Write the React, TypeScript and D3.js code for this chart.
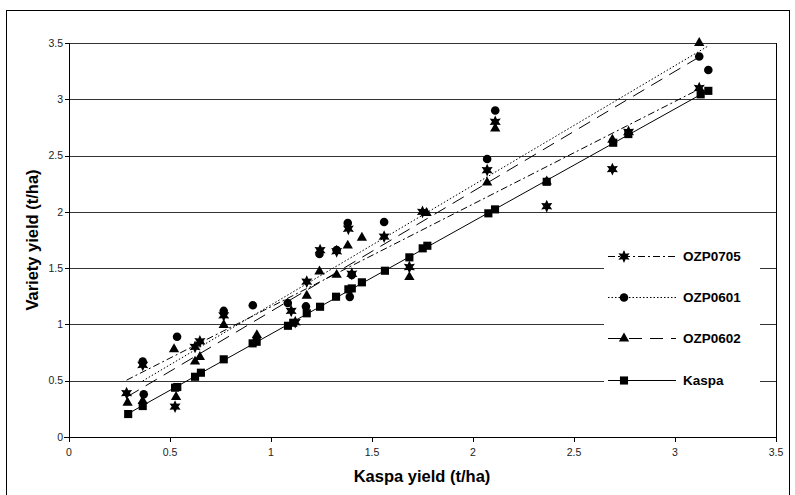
import React from "react";
import * as d3 from "d3";

// ---- Data ----
const KASPA_X = [0.293, 0.365, 0.525, 0.536, 0.624, 0.653, 0.766, 0.909, 0.929, 1.084, 1.11, 1.177, 1.243, 1.322, 1.383, 1.4, 1.45, 1.564, 1.685, 1.751, 1.774, 2.076, 2.109, 2.365, 2.694, 2.769, 3.127, 3.165];
const KASPA_Y = [0.204, 0.275, 0.438, 0.444, 0.535, 0.571, 0.69, 0.832, 0.846, 0.988, 1.015, 1.099, 1.157, 1.246, 1.312, 1.32, 1.374, 1.477, 1.596, 1.676, 1.699, 1.987, 2.022, 2.267, 2.614, 2.691, 3.044, 3.075];

const OZP0705_X = [0.285, 0.365, 0.525, 0.624, 0.648, 0.766, 1.1, 1.12, 1.177, 1.243, 1.325, 1.383, 1.4, 1.56, 1.685, 1.75, 2.07, 2.11, 2.365, 2.69, 2.77, 3.12];
const OZP0705_Y = [0.39, 0.64, 0.27, 0.8, 0.85, 1.08, 1.12, 1.02, 1.38, 1.66, 1.65, 1.85, 1.45, 1.78, 1.51, 2.0, 2.37, 2.8, 2.05, 2.38, 2.71, 3.1];

const OZP0601_X = [0.365, 0.37, 0.535, 0.766, 0.91, 1.083, 1.173, 1.24, 1.325, 1.38, 1.4, 1.39, 1.56, 2.07, 2.11, 3.12, 3.165];
const OZP0601_Y = [0.67, 0.38, 0.89, 1.12, 1.17, 1.19, 1.16, 1.625, 1.66, 1.9, 1.44, 1.245, 1.91, 2.47, 2.9, 3.38, 3.26];

const OZP0602_X = [0.29, 0.365, 0.52, 0.53, 0.624, 0.648, 0.766, 0.93, 1.177, 1.24, 1.325, 1.38, 1.45, 1.685, 1.77, 2.07, 2.11, 2.365, 2.69, 3.12];
const OZP0602_Y = [0.305, 0.32, 0.78, 0.355, 0.67, 0.71, 0.995, 0.905, 1.255, 1.47, 1.44, 1.7, 1.77, 1.42, 1.99, 2.26, 2.74, 2.27, 2.64, 3.5];

// trendline coefficients (slope, intercept)
const SERIES_NAMES = ["OZP0705", "OZP0601", "OZP0602", "Kaspa"];
const TREND_SLOPE = [0.912, 1.063, 1.066, 1.0];
const TREND_INTERCEPT = [0.245, 0.11, 0.05, -0.085];

const TICKS = [0, 0.5, 1, 1.5, 2, 2.5, 3, 3.5];

const W = 795;
const H = 495;
const FONT = "'Liberation Sans', Arial, sans-serif";

function starPath(ro: number, ri: number): string {
  const pts: [number, number][] = [];
  for (let i = 0; i < 12; i++) {
    const a = -Math.PI / 2 + (i * Math.PI) / 6;
    const r = i % 2 === 0 ? ro : ri;
    pts.push([r * Math.cos(a), r * Math.sin(a)]);
  }
  return "M" + pts.map((p) => p[0].toFixed(2) + "," + p[1].toFixed(2)).join("L") + "Z";
}

const markerPaths: Record<string, string> = {
  OZP0705: starPath(6.4, 3.3),
  OZP0601: d3.symbol().type(d3.symbolCircle).size(58)() as string,
  OZP0602: d3.symbol().type(d3.symbolTriangle).size(46)() as string,
  Kaspa: d3.symbol().type(d3.symbolSquare).size(66)() as string,
};

const dashes: Record<string, string> = {
  OZP0705: "7,3,2,3",
  OZP0601: "1.5,2",
  OZP0602: "13,8",
  Kaspa: "none",
};

export default function App() {
  const x = d3.scaleLinear().domain([0, 3.5]).range([69, 776]);
  const y = d3.scaleLinear().domain([0, 3.5]).range([437, 43]);

  const seriesX: Record<string, number[]> = {
    OZP0705: OZP0705_X,
    OZP0601: OZP0601_X,
    OZP0602: OZP0602_X,
    Kaspa: KASPA_X,
  };
  const seriesY: Record<string, number[]> = {
    OZP0705: OZP0705_Y,
    OZP0601: OZP0601_Y,
    OZP0602: OZP0602_Y,
    Kaspa: KASPA_Y,
  };

  const line = d3
    .line<[number, number]>()
    .x((d) => x(d[0]))
    .y((d) => y(d[1]));

  const legendY = [256, 297, 338, 380];
  const drawOrder = ["Kaspa", "OZP0602", "OZP0601", "OZP0705"];

  return (
    <svg
      width={W}
      height={H}
      style={{ position: "absolute", left: 0, top: 0, background: "#fff" }}
      fontFamily={FONT}
    >
      <rect x={6.5} y={10.5} width={783} height={500} fill="#fff" stroke="#000" strokeWidth={1} />

      {/* gridlines */}
      {TICKS.filter((t) => t > 0).map((t) => (
        <line key={"g" + t} x1={x(0)} x2={x(3.5)} y1={Math.round(y(t)) + 0.5} y2={Math.round(y(t)) + 0.5} stroke="#333" strokeWidth={1} />
      ))}
      {/* plot area border right */}
      <line x1={x(3.5) + 0.5} x2={x(3.5) + 0.5} y1={y(3.5)} y2={y(0)} stroke="#000" />

      {/* axes */}
      <line x1={x(0) + 0.5} x2={x(0) + 0.5} y1={y(3.5)} y2={y(0) + 5} stroke="#000" />
      <line x1={x(0) - 5} x2={x(3.5)} y1={Math.round(y(0)) + 0.5} y2={Math.round(y(0)) + 0.5} stroke="#000" />
      {TICKS.map((t) => (
        <g key={"yt" + t}>
          <line x1={x(0) - 4} x2={x(0)} y1={Math.round(y(t)) + 0.5} y2={Math.round(y(t)) + 0.5} stroke="#000" />
          <text x={x(0) - 6} y={y(t)} dy="0.35em" textAnchor="end" fontSize={10.5} fill="#222">
            {String(t)}
          </text>
        </g>
      ))}
      {TICKS.map((t) => (
        <g key={"xt" + t}>
          <line x1={Math.round(x(t)) + 0.5} x2={Math.round(x(t)) + 0.5} y1={y(0)} y2={y(0) + 5} stroke="#000" />
          <text x={x(t)} y={y(0) + 19} textAnchor="middle" fontSize={10.5} fill="#222">
            {String(t)}
          </text>
        </g>
      ))}

      {/* axis titles */}
      <text x={422} y={482} textAnchor="middle" fontSize={16.5} fontWeight="bold">
        Kaspa yield (t/ha)
      </text>
      <text transform="translate(38,240) rotate(-90)" textAnchor="middle" fontSize={16.5} fontWeight="bold">
        Variety yield (t/ha)
      </text>

      {/* trendlines */}
      {SERIES_NAMES.map((name, i) => {
        const xs = seriesX[name];
        const x0 = d3.min(xs) as number;
        const x1 = d3.max(xs) as number;
        const pts: [number, number][] = [
          [x0, TREND_SLOPE[i] * x0 + TREND_INTERCEPT[i]],
          [x1, TREND_SLOPE[i] * x1 + TREND_INTERCEPT[i]],
        ];
        return (
          <path key={"tl" + name} d={line(pts) as string} fill="none" stroke="#000" strokeWidth={1} strokeDasharray={dashes[name]} />
        );
      })}

      {/* markers */}
      {drawOrder.map((name) => (
        <g key={"m" + name}>
          {seriesX[name].map((xv, j) => (
            <path key={j} d={markerPaths[name]} transform={`translate(${x(xv)},${y(seriesY[name][j])})`} fill="#000" />
          ))}
        </g>
      ))}

      {/* legend */}
      <rect x={604} y={230} width={156} height={168} fill="#fff" />
      {SERIES_NAMES.map((name, i) => (
        <g key={"lg" + name}>
          <line x1={608} x2={676} y1={legendY[i] + 0.5} y2={legendY[i] + 0.5} stroke="#000" strokeDasharray={dashes[name]} />
          <path d={markerPaths[name]} transform={`translate(624,${legendY[i] + 0.5})`} fill="#000" />
          <text x={683} y={legendY[i]} dy="0.36em" fontSize={13.5} fontWeight="bold">
            {name}
          </text>
        </g>
      ))}
    </svg>
  );
}
